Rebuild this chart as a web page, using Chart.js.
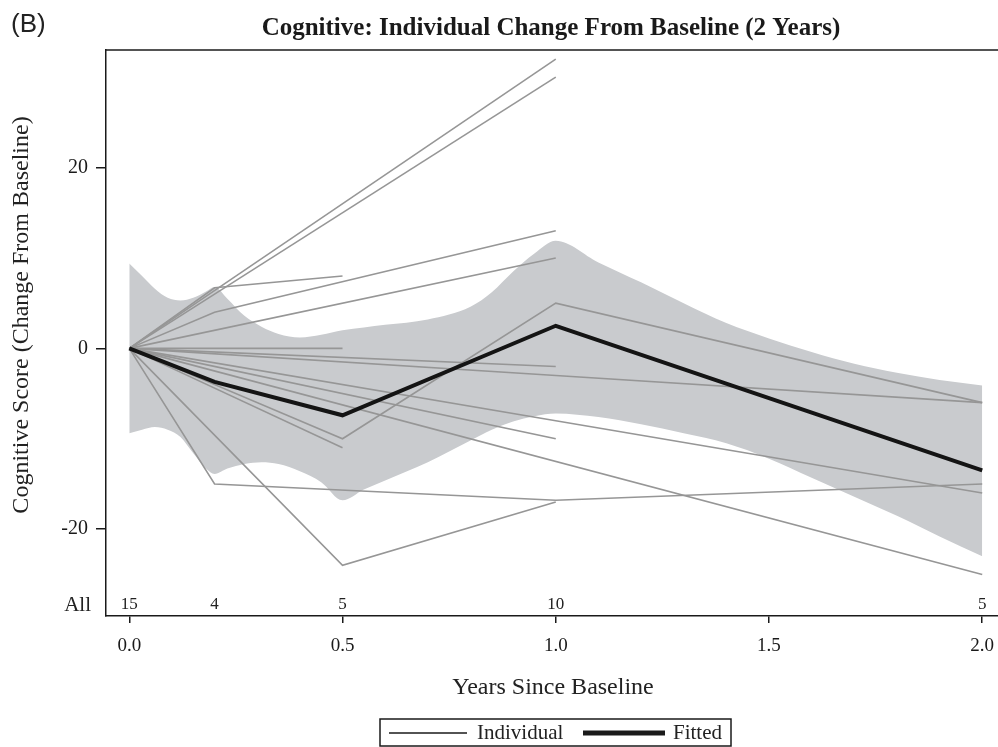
<!DOCTYPE html>
<html>
<head>
<meta charset="utf-8">
<script src="https://cdn.jsdelivr.net/npm/chart.js@4.4.1/dist/chart.umd.min.js"></script>
<style>
  html, body { margin: 0; padding: 0; background: #fff; }
  #wrap { width: 998px; height: 747px; position: relative; }
</style>
</head>
<body>
<div id="wrap"><canvas id="cognitive-chart" width="998" height="747"></canvas></div>
<script>
// visit times (years since baseline)
const timePoints = [0, 0.2, 0.5, 1.0, 2.0];
const nCounts = [15, 4, 5, 10, 5];

// individual subjects (null = no visit)
const subj01 = [0, null, null, 32, null];
const subj02 = [0, null, null, 30, null];
const subj03 = [0, 4, null, 13, null];
const subj04 = [0, null, null, 10, null];
const subj05 = [0, 6.7, 8, null, null];
const subj06 = [0, null, 0, null, null];
const subj07 = [0, null, null, -2, null];
const subj08 = [0, null, -10, 5, -6];
const subj09 = [0, null, -11, null, null];
const subj10 = [0, null, -24, -17, null];
const subj11 = [0, -15, null, -16.8, -15];
const subj12 = [0, null, null, -3, -6];
const subj13 = [0, null, null, -8, -16];
const subj14 = [0, null, null, -10, null];
const subj15 = [0, null, null, null, -25];

// fitted mean
const fitted = [0, -3.7, -7.4, 2.5, -13.5];

// confidence band
const bandX     = [0, 0.03, 0.06, 0.09, 0.12, 0.15, 0.18, 0.2, 0.23, 0.27, 0.31, 0.35, 0.4, 0.45, 0.5, 0.55, 0.6, 0.7, 0.8, 0.85, 0.9, 0.95, 1.0, 1.1, 1.2, 1.3, 1.4, 1.5, 1.6, 1.7, 1.8, 1.9, 2.0];
const bandUpper = [9.4, 8.0, 6.6, 5.6, 5.3, 5.6, 6.3, 6.8, 5.5, 3.6, 2.4, 1.6, 1.2, 1.5, 2.0, 2.3, 2.6, 3.2, 4.6, 6.2, 8.5, 10.5, 11.9, 9.5, 7.3, 5.0, 2.8, 1.1, -0.4, -1.7, -2.7, -3.5, -4.1];
const bandLower = [-9.4, -9.0, -8.7, -9.0, -9.8, -11.6, -13.3, -13.9, -13.3, -12.8, -12.6, -12.8, -13.6, -14.8, -16.8, -15.6, -14.6, -12.6, -10.2, -9.0, -8.1, -7.5, -7.2, -7.6, -8.4, -9.4, -10.5, -12.2, -14.3, -16.4, -18.5, -20.8, -23.0];

const xTickValues = [0, 0.5, 1.0, 1.5, 2.0];
const yTickValues = [-20, 0, 20];

const individuals = [subj01, subj02, subj03, subj04, subj05, subj06, subj07, subj08,
                     subj09, subj10, subj11, subj12, subj13, subj14, subj15];

const SERIF = "'Liberation Serif', 'Times New Roman', serif";
const INK = '#1a1a1a';

function toPoints(xs, ys) {
    return xs.map((x, i) => ({ x: x, y: ys[i] }));
}

const datasets = [];

// fitted on top (lowest order)
datasets.push({
    label: 'Fitted',
    data: toPoints(timePoints, fitted),
    borderColor: '#141414',
    borderWidth: 4,
    pointRadius: 0,
    fill: false,
    tension: 0,
    borderJoinStyle: 'miter',
    order: 1
});

individuals.forEach((s, i) => {
    datasets.push({
        label: 'Individual ' + (i + 1),
        data: toPoints(timePoints, s),
        borderColor: 'rgb(150, 150, 150)',
        borderWidth: 1.6,
        pointRadius: 0,
        spanGaps: true,
        fill: false,
        tension: 0,
        order: 2
    });
});

datasets.push({
    label: 'bandUpper',
    data: toPoints(bandX, bandUpper),
    borderWidth: 0,
    pointRadius: 0,
    fill: '+1',
    backgroundColor: 'rgb(201, 203, 206)',
    cubicInterpolationMode: 'monotone',
    order: 3
});
datasets.push({
    label: 'bandLower',
    data: toPoints(bandX, bandLower),
    borderWidth: 0,
    pointRadius: 0,
    fill: false,
    cubicInterpolationMode: 'monotone',
    order: 3
});

// texts, frame top line and legend
const decorPlugin = {
    id: 'decor',
    afterDraw(chart) {
        const { ctx, chartArea, scales } = chart;
        ctx.save();

        // top frame line
        ctx.strokeStyle = INK;
        ctx.lineWidth = 1.5;
        ctx.beginPath();
        ctx.moveTo(chartArea.left, chartArea.top);
        ctx.lineTo(chartArea.right, chartArea.top);
        ctx.stroke();

        // panel label
        ctx.fillStyle = '#222';
        ctx.font = "26px 'Liberation Sans', Arial, sans-serif";
        ctx.textAlign = 'left';
        ctx.textBaseline = 'middle';
        ctx.fillText('(B)', 11, 25);

        // title
        ctx.font = 'bold 25px ' + SERIF;
        ctx.textAlign = 'center';
        ctx.fillStyle = INK;
        ctx.fillText('Cognitive: Individual Change From Baseline (2 Years)', 551, 29);

        // counts row
        ctx.font = '17px ' + SERIF;
        ctx.fillStyle = '#222';
        const rowY = 605;
        timePoints.forEach((t, i) => {
            ctx.fillText(String(nCounts[i]), scales.x.getPixelForValue(t), rowY);
        });
        ctx.font = '21px ' + SERIF;
        ctx.textAlign = 'right';
        ctx.fillText('All', 91, rowY);

        // axis titles
        ctx.font = '24px ' + SERIF;
        ctx.textAlign = 'center';
        ctx.fillText('Years Since Baseline', 553, 688);

        ctx.save();
        ctx.translate(22, 315);
        ctx.rotate(-Math.PI / 2);
        ctx.fillText('Cognitive Score (Change From Baseline)', 0, 0);
        ctx.restore();

        // legend
        const lx = 380, ly = 719, lw = 351, lh = 27;
        ctx.strokeStyle = INK;
        ctx.lineWidth = 1.5;
        ctx.strokeRect(lx, ly, lw, lh);
        const midY = 733;
        ctx.lineWidth = 1.5;
        ctx.beginPath();
        ctx.moveTo(389, midY);
        ctx.lineTo(467, midY);
        ctx.stroke();
        ctx.lineWidth = 5;
        ctx.beginPath();
        ctx.moveTo(583, midY);
        ctx.lineTo(665, midY);
        ctx.stroke();
        ctx.font = '21px ' + SERIF;
        ctx.textAlign = 'left';
        ctx.fillText('Individual', 477, midY);
        ctx.fillText('Fitted', 673, midY);

        ctx.restore();
    }
};

const ctx = document.getElementById('cognitive-chart').getContext('2d');

new Chart(ctx, {
    type: 'line',
    data: { datasets: datasets },
    options: {
        responsive: false,
        animation: false,
        layout: { padding: { top: 50, right: 0, left: 0, bottom: 0 } },
        scales: {
            x: {
                type: 'linear',
                min: -0.0546,
                max: 2.037,
                afterFit: (scale) => {
                    scale.height = 131;
                    scale.paddingLeft = 0;
                    scale.paddingRight = 0;
                },
                afterBuildTicks: (scale) => { scale.ticks = xTickValues.map(v => ({ value: v })); },
                ticks: {
                    color: INK,
                    font: { family: SERIF, size: 19 },
                    padding: 12,
                    maxRotation: 0,
                    callback: (v) => Number(v).toFixed(1)
                },
                grid: { display: true, drawOnChartArea: false, drawTicks: true, tickLength: 7, color: INK, lineWidth: 1.5 },
                border: { display: true, color: INK, width: 1.5 }
            },
            y: {
                type: 'linear',
                min: -29.6,
                max: 33.0,
                afterFit: (scale) => { scale.width = 106; },
                afterBuildTicks: (scale) => { scale.ticks = yTickValues.map(v => ({ value: v })); },
                ticks: {
                    color: INK,
                    font: { family: SERIF, size: 20 },
                    padding: 8,
                    callback: (v) => String(v)
                },
                grid: { display: true, drawOnChartArea: false, drawTicks: true, tickLength: 10, color: INK, lineWidth: 1.5 },
                border: { display: true, color: INK, width: 1.5 }
            }
        },
        plugins: {
            legend: { display: false },
            tooltip: { enabled: false },
            title: { display: false },
            filler: { drawTime: 'beforeDatasetsDraw' }
        }
    },
    plugins: [decorPlugin]
});
</script>
</body>
</html>
